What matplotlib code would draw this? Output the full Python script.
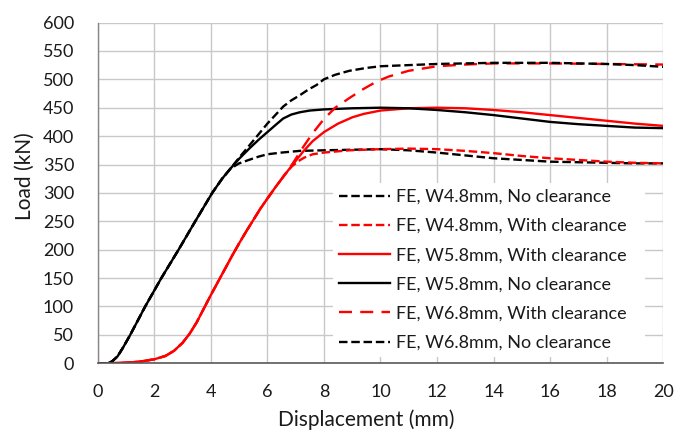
import matplotlib
matplotlib.use("Agg")
import matplotlib.pyplot as plt
import numpy as np

plt.rcParams['font.family'] = ['Lato', 'DejaVu Sans']

# Load-displacement curves (displacement in mm, load in kN)
x_w48_nc = [0, 0.35, 0.5, 0.7, 0.9, 1.15, 1.68, 2.25, 2.86, 3.45, 4.05, 4.4, 4.7, 5.0, 5.4,
            5.7, 6.0, 6.5, 7.15, 8, 9, 10, 11, 12, 13, 14, 15, 16, 17, 18, 19, 20]
y_w48_nc = [0, 0, 3, 12, 28, 50, 100, 150, 200, 250, 300, 325, 343, 352, 359,
            364, 368, 371, 374, 375, 376, 377, 375, 371, 366, 361, 358, 355, 354, 353, 352, 352]

x_w48_wc = [0, 0.3, 1.0, 1.5, 2.0, 2.4, 2.7, 3.0, 3.25, 3.5, 3.75, 4.0, 4.25, 4.5, 4.75, 5.0,
            5.25, 5.5, 5.75, 6.0, 6.3, 6.6, 6.85, 7.1, 7.3, 7.6, 8, 8.9, 10, 11, 12, 13, 14,
            15, 16, 17, 18, 19, 20]
y_w48_wc = [0, 0, 1, 3, 7, 13, 22, 36, 52, 72, 96, 120, 143, 166, 189, 211,
            232, 252, 272, 290, 311, 331, 346, 356, 362, 368, 371, 375, 377, 378, 377, 374, 370,
            365, 361, 358, 355, 353, 352]

x_w58_wc = [0, 0.3, 1.0, 1.5, 2.0, 2.4, 2.7, 3.0, 3.25, 3.5, 3.75, 4.0, 4.25, 4.5, 4.75, 5.0,
            5.25, 5.5, 5.75, 6.0, 6.3, 6.6, 6.9, 7.27, 7.6, 8, 8.5, 9, 9.4, 10, 11, 12, 13, 14,
            15, 16, 17, 18, 19, 20]
y_w58_wc = [0, 0, 1, 3, 7, 13, 22, 36, 52, 72, 96, 120, 143, 166, 189, 211,
            232, 252, 272, 290, 311, 331, 350, 373, 391, 407, 422, 433, 439, 445, 449, 450, 449, 446,
            442, 437, 432, 427, 422, 418]

x_w58_nc = [0, 0.35, 0.5, 0.7, 0.9, 1.15, 1.68, 2.25, 2.86, 3.45, 4.05, 4.4, 4.7, 5.0, 5.38,
            5.7, 6.0, 6.3, 6.56, 6.85, 7.15, 7.5, 8, 9, 10, 11, 12, 13, 14, 15, 16, 17, 18, 19, 20]
y_w58_nc = [0, 0, 3, 12, 28, 50, 100, 150, 200, 250, 300, 325, 343, 360, 379,
            394, 407, 420, 431, 438, 442, 445, 447, 449, 450, 449, 446, 442, 437, 431, 425, 421, 418, 415, 414]

x_w68_wc = [0, 0.3, 1.0, 1.5, 2.0, 2.4, 2.7, 3.0, 3.25, 3.5, 3.75, 4.0, 4.25, 4.5, 4.75, 5.0,
            5.25, 5.5, 5.75, 6.0, 6.3, 6.6, 6.9, 7.27, 7.6, 8, 8.4, 8.9, 9.4, 9.86, 10.3, 11, 12,
            13, 14, 16, 18, 20]
y_w68_wc = [0, 0, 1, 3, 7, 13, 22, 36, 52, 72, 96, 120, 143, 166, 189, 211,
            232, 252, 272, 290, 311, 331, 352, 381, 405, 430, 450, 467, 483, 496, 505, 515, 523,
            526, 528, 528, 527, 526]

x_w68_nc = [0, 0.35, 0.5, 0.7, 0.9, 1.15, 1.68, 2.25, 2.86, 3.45, 4.05, 4.4, 4.7, 5.0, 5.27,
            5.62, 6.0, 6.3, 6.56, 6.85, 7.15, 7.45, 7.74, 8.0, 8.4, 8.9, 9.5, 10, 11, 12, 14, 16,
            17, 18, 19, 20]
y_w68_nc = [0, 0, 3, 12, 28, 50, 100, 150, 200, 250, 300, 325, 343, 362, 378,
            399, 422, 438, 452, 463, 472, 482, 490, 500, 508, 515, 520, 523, 525, 527, 529, 529,
            528, 527, 525, 522]

labels = ["FE, W4.8mm, No clearance",
          "FE, W4.8mm, With clearance",
          "FE, W5.8mm, With clearance",
          "FE, W5.8mm, No clearance",
          "FE, W6.8mm, With clearance",
          "FE, W6.8mm, No clearance"]

x_ticks = list(range(0, 21, 2))
y_ticks = list(range(0, 601, 50))

short_dash = (0, (3.6, 1.6))
long_dash = (0, (5.5, 3.5))
text_color = '#1a1a1a'

fig = plt.figure(figsize=(6.88, 4.33), dpi=100)
ax = fig.add_axes([0.142, 0.161, 0.822, 0.787])

lw = 1.7
ax.plot(x_w48_nc, y_w48_nc, color='black', lw=lw, linestyle=short_dash, label=labels[0])
ax.plot(x_w48_wc, y_w48_wc, color='red', lw=lw, linestyle=short_dash, label=labels[1])
ax.plot(x_w58_wc, y_w58_wc, color='red', lw=lw, linestyle='-', label=labels[2])
ax.plot(x_w58_nc, y_w58_nc, color='black', lw=lw, linestyle='-', label=labels[3])
ax.plot(x_w68_wc, y_w68_wc, color='red', lw=lw, linestyle=long_dash, label=labels[4])
ax.plot(x_w68_nc, y_w68_nc, color='black', lw=lw, linestyle=short_dash, label=labels[5])

ax.set_xlim(0, 20)
ax.set_ylim(0, 600)
ax.set_xticks(x_ticks)
ax.set_yticks(y_ticks)
ax.grid(True, color='#c8c8c8', linewidth=1.0)
ax.set_axisbelow(True)
ax.tick_params(length=0, labelsize=13, colors=text_color)
ax.tick_params(axis='x', pad=15)
ax.tick_params(axis='y', pad=17)
for side in ['top', 'right']:
    ax.spines[side].set_visible(False)
ax.spines['left'].set_color('#868686')
ax.spines['bottom'].set_color('#595959')
ax.spines['left'].set_linewidth(1.0)
ax.spines['bottom'].set_linewidth(1.2)

ax.set_xlabel("Displacement (mm)", fontsize=15, color=text_color, va='center')
ax.set_ylabel("Load (kN)", fontsize=15, color=text_color, va='center')
ax.xaxis.set_label_coords(0.475, -0.166)
ax.yaxis.set_label_coords(-0.1285, 0.55)

leg = ax.legend(loc='lower left', bbox_to_anchor=(0.416, 0.018, 0.552, 0.52),
                mode='expand', fontsize=13, frameon=True, fancybox=False,
                handlelength=2.8, handletextpad=0.35, labelspacing=0.73,
                borderpad=0.35, borderaxespad=0)
leg.get_frame().set_facecolor('white')
leg.get_frame().set_edgecolor('none')
leg.get_frame().set_alpha(1.0)
for t in leg.get_texts():
    t.set_color(text_color)

fig.savefig("out.png", dpi=100)
